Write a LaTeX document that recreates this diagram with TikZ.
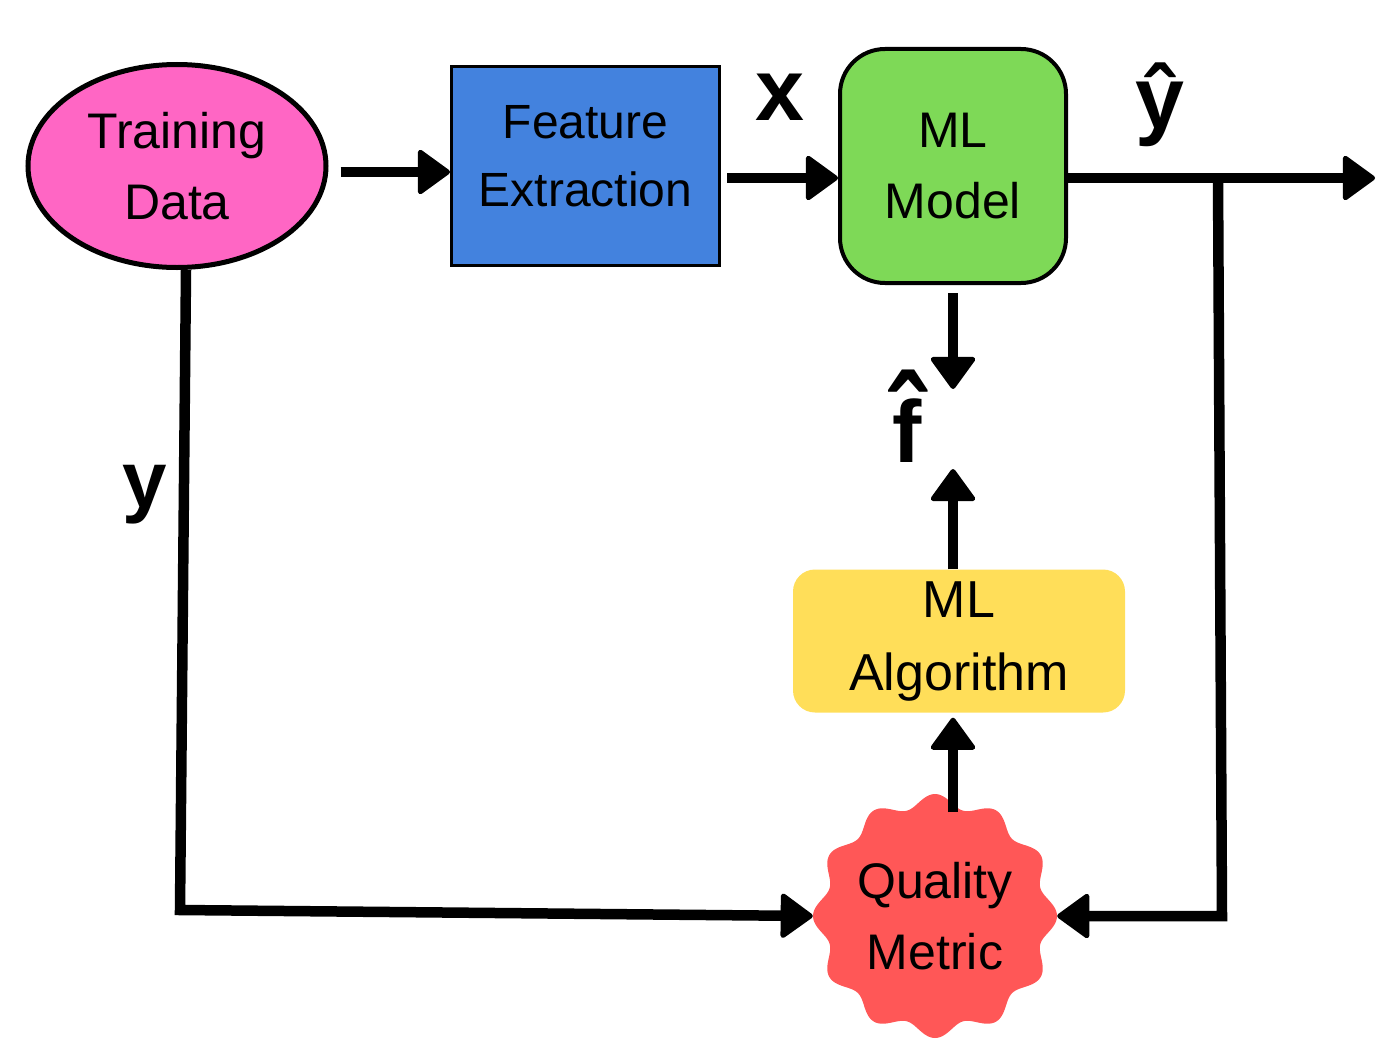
\documentclass[tikz,border=0pt]{standalone}
\usepackage{fontspec}
\setmainfont{Liberation Sans}
\usetikzlibrary{arrows.meta,shapes.geometric}
\definecolor{tdpink}{HTML}{FF66C4}
\definecolor{feblue}{HTML}{4382DE}
\definecolor{mlgreen}{HTML}{7ED957}
\definecolor{algyellow}{HTML}{FFDE59}
\definecolor{qmred}{HTML}{FF5757}
\begin{document}
\begin{tikzpicture}[x=1pt,y=-1pt,
  block/.style={draw,align=center,inner sep=0pt,font=\fontsize{50}{71}\selectfont},
  sym/.style={font=\fontsize{88}{88}\selectfont\bfseries},
  arr/.style={draw,line width=10.5pt,-{Triangle[length=34pt,width=48pt,line width=5pt,round]}}]
  \useasboundingbox (0,0) rectangle (1396,1057);
  \fill[qmred] plot[domain=0:360,samples=361,variable=\t]
    ({935+(115.5+6.5*cos(12*\t))*cos(\t)},{916+(115.5+6.5*cos(12*\t))*sin(\t)}) -- cycle;

  \node[block,ellipse,line width=5pt,fill=tdpink,minimum width=298pt,minimum height=203pt] (td) at (177,166) {Training\\Data};
  \node[block,line width=3pt,fill=feblue,minimum width=268pt,minimum height=199pt,text depth=20pt,
    font=\fontsize{48}{68}\selectfont] (fe) at (585.5,166) {Feature\\Extraction};
  \node[block,line width=4pt,fill=mlgreen,rounded corners=45pt,minimum width=226pt,minimum height=234pt] (ml) at (953,166) {ML\\Model};
  \node[block,draw=none,fill=algyellow,rounded corners=22pt,minimum width=332pt,minimum height=143pt,
    font=\fontsize{52}{73}\selectfont] (alg) at (959,641) {ML\\Algorithm};
  \node[block,draw=none,circle,minimum size=244pt] (qm) at (935,916) {Quality\\Metric};

  \node[sym] (xl) at (780,97) {x};
  \node[sym] (yhat) at (1160,105) {ŷ};
  \node[sym,font=\fontsize{80}{80}\selectfont\bfseries] (yl) at (145,495) {y};
  \node[sym] (fhat) at (907,434) {\ooalign{f\cr\hidewidth\raisebox{-6pt}{\scalebox{1.25}[1.5]{ˆ}}\hidewidth\cr}};

  \coordinate (out) at (1375,178);
  \coordinate (split) at (1218,178);
  \coordinate (ycorner) at (180,910);
  \coordinate (fdown) at (953,389);
  \coordinate (fup) at (953,469);
  \coordinate (qmtop) at (953,812);

  \draw[arr,shorten <=12pt] ([yshift=-6pt]td.east) -- ([yshift=-6pt]fe.west);
  \draw[arr,shorten <=6pt] ([yshift=-12pt]fe.east) -- ([yshift=-12pt]ml.west);
  \draw[arr] ([yshift=-12pt]ml.east) -- (out);
  \draw[arr,shorten <=8pt] (ml.south) -- (fdown);
  \draw[arr] (fup |- alg.north) -- (fup);
  \draw[arr,shorten >=5pt] (qmtop) -- (qmtop |- alg.south);
  \draw[arr] ([xshift=9pt]td.south) -- (ycorner) -- (qm.west);
  \draw[arr] (split) -- ([xshift=4pt]split |- qm.east) -- (qm.east);
\end{tikzpicture}
\end{document}
